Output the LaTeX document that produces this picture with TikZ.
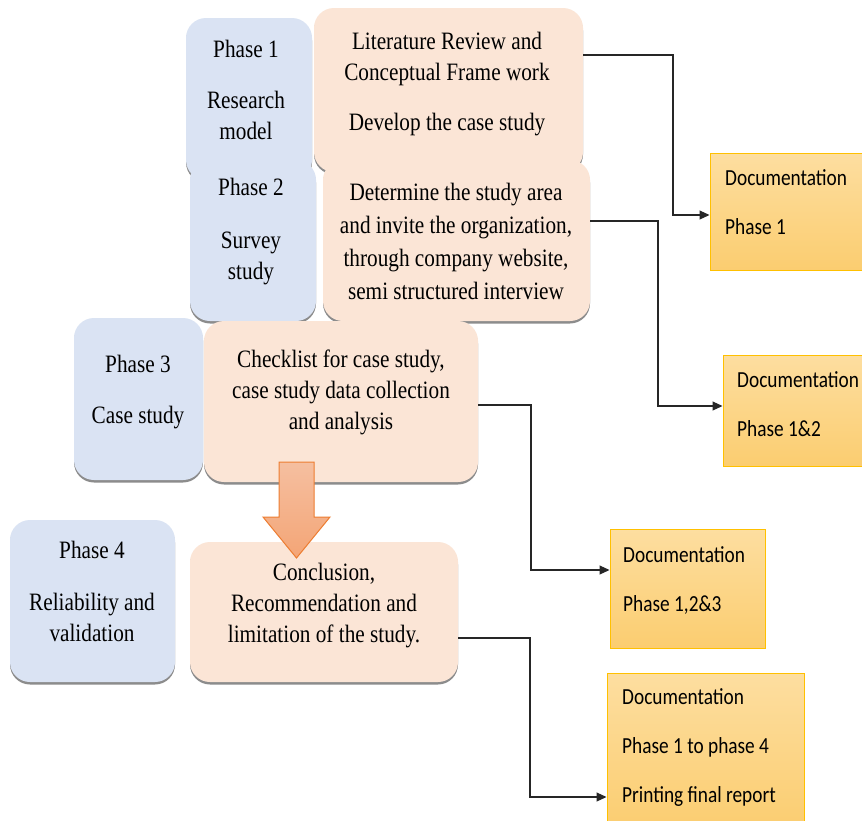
\documentclass[tikz,border=0pt]{standalone}
\usepackage{fontspec}
\setmainfont{Liberation Serif}[FakeStretch=0.85]
\newfontfamily\docfont{Carlito}[FakeStretch=0.84]
\usetikzlibrary{shadows,arrows.meta}
\definecolor{bluefill}{HTML}{DAE3F3}
\definecolor{orangefill}{HTML}{FBE5D6}
\definecolor{doctop}{HTML}{FDDEA0}
\definecolor{docbot}{HTML}{FBCD70}
\definecolor{docedge}{HTML}{FFC000}
\definecolor{arrtop}{HTML}{F5BFA0}
\definecolor{arrbot}{HTML}{F4A576}
\definecolor{arredge}{HTML}{ED7D31}
\begin{document}
\begin{tikzpicture}[x=1pt,y=-1pt,
  phasebox/.style={rectangle, rounded corners=20pt, inner sep=0pt,
    drop shadow={shadow xshift=0pt, shadow yshift=-2.5pt, fill=black!60, opacity=0.75}},
  bluebox/.style={phasebox, fill=bluefill},
  orangebox/.style={phasebox, fill=orangefill},
  docbox/.style={rectangle, inner sep=0pt, top color=doctop, bottom color=docbot,
    draw=docedge, line width=1pt},
  sertext/.style={font=\fontsize{25}{31}\selectfont, align=center, inner sep=0pt, anchor=north},
  doctext/.style={font=\docfont\fontsize{23}{49}\selectfont, align=left, inner sep=0pt, anchor=north west},
  conn/.style={draw=black!85, line width=1.1pt, -{Triangle[length=10pt,width=9pt]}},
  bigarrow/.style={top color=arrtop, bottom color=arrbot, draw=arredge, line width=1pt}]
\useasboundingbox (0,0) rectangle (862,820);
\clip (0,0) rectangle (862,820);
\fill[white] (0,0) rectangle (862,820);

% phase boxes
\node[bluebox, minimum width=126pt, minimum height=162pt] (b1) at (249,99) {};
\node[orangebox, minimum width=269pt, minimum height=164pt] (o1) at (448.5,90) {};
\node[bluebox, minimum width=126pt, minimum height=161pt] (b2) at (253,240.5) {};
\node[orangebox, minimum width=267pt, minimum height=161pt] (o2) at (456.5,240.5) {};
\node[bluebox, minimum width=129pt, minimum height=162pt] (b3) at (138.5,399) {};
\node[orangebox, minimum width=274pt, minimum height=161pt] (o3) at (341,401.5) {};
\node[bluebox, minimum width=165pt, minimum height=162pt] (b4) at (92.5,601) {};
\node[orangebox, minimum width=268pt, minimum height=140pt] (o4) at (324,612) {};

% big arrow
\path[bigarrow] (279,462) -- (314,462) -- (314,517) -- (330,517) -- (296.5,558)
  -- (263,517) -- (279,517) -- cycle;

% texts in phase boxes
\node[sertext] (tb1) at (246,35.3) {\strut Phase 1\\[20pt]Research\\model};
\node[sertext] (to1) at (447,27.3) {\strut Literature Review and\\Conceptual Frame work\\[19pt]Develop the case study};
\node[sertext] (tb2) at (251,173.3) {\strut Phase 2\\[22pt]Survey\\study};
\node[sertext, font=\fontsize{25}{33}\selectfont] (to2) at (456,176.9) {\strut Determine the study area\\and invite the organization,\\through company website,\\semi structured interview};
\node[sertext] (tb3) at (138,350.3) {\strut Phase 3\\[20pt]Case study};
\node[sertext] (to3) at (341,345.3) {\strut Checklist for case study,\\case study data collection\\and analysis};
\node[sertext] (tb4) at (92,536.3) {\strut Phase 4\\[21pt]Reliability and\\validation};
\node[sertext] (to4) at (324,558.3) {\strut Conclusion,\\Recommendation and\\limitation of the study.};

% documentation boxes
\node[docbox, minimum width=165pt, minimum height=117pt] (d1) at (792.5,211.5) {};
\node[docbox, minimum width=152pt, minimum height=111pt] (d2) at (799,410.5) {};
\node[docbox, minimum width=155pt, minimum height=119pt] (d3) at (687.5,588.5) {};
\node[docbox, minimum width=197pt, minimum height=157pt] (d4) at (705.5,751.5) {};

\node[doctext] (td1) at (725,150.7) {\strut Documentation\\Phase 1};
\node[doctext] (td2) at (737,352.7) {\strut Documentation\\Phase 1\&2};
\node[doctext] (td3) at (623,527.7) {\strut Documentation\\Phase 1,2\&3};
\node[doctext] (td4) at (622,669.7) {\strut Documentation\\Phase 1 to phase 4\\Printing final report};

% connectors
\coordinate (a1) at (673,55);  \coordinate (c1) at (673,215);
\coordinate (a2) at (658,221); \coordinate (c2) at (658,406);
\coordinate (a3) at (531,405); \coordinate (c3) at (531,570);
\coordinate (a4) at (530,638); \coordinate (c4) at (530,797);
\draw[conn] (o1.east |- a1) -- (a1) -- (c1) -- (d1.west |- c1);
\draw[conn] (o2.east |- a2) -- (a2) -- (c2) -- (d2.west |- c2);
\draw[conn] (o3.east |- a3) -- (a3) -- (c3) -- (d3.west |- c3);
\draw[conn] (o4.east |- a4) -- (a4) -- (c4) -- (d4.west |- c4);
\end{tikzpicture}
\end{document}
